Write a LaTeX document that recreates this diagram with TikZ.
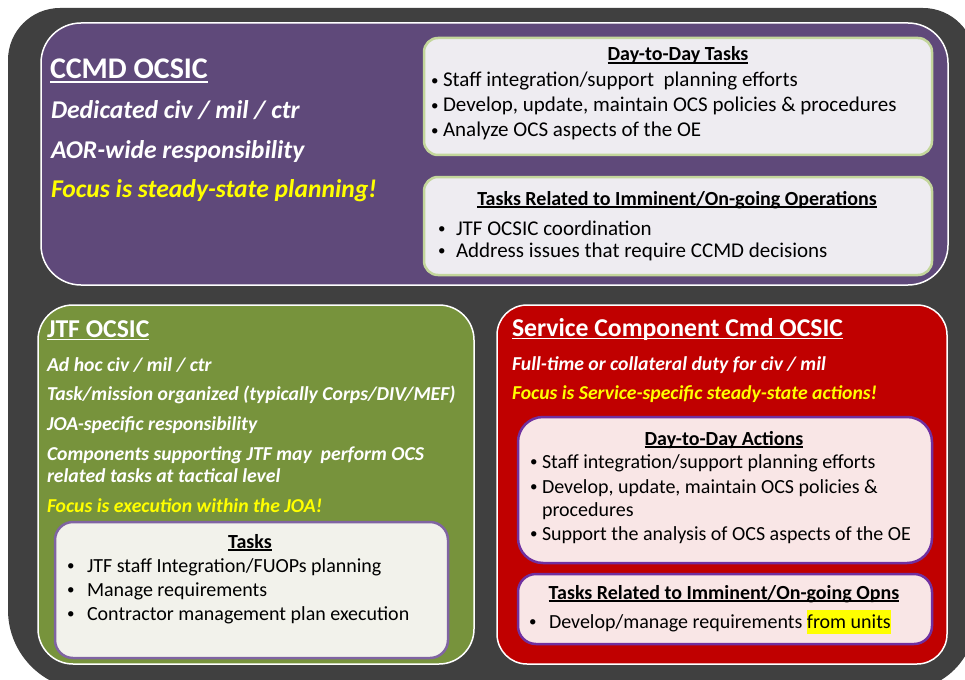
\documentclass[tikz,border=0pt]{standalone}
\usepackage{fontspec}
\setmainfont{Carlito}
\definecolor{darkbg}{HTML}{404040}
\definecolor{ccmdpurple}{HTML}{5F497A}
\definecolor{jtfgreen}{HTML}{77933C}
\definecolor{scred}{HTML}{C00000}
\definecolor{lavbox}{HTML}{EEECF1}
\definecolor{lgreen}{HTML}{C3D69B}
\definecolor{creambox}{HTML}{F2F2EB}
\definecolor{mpurple}{HTML}{8064A2}
\definecolor{pinkbox}{HTML}{F9E6E6}
\definecolor{vpurple}{HTML}{7030A0}
\definecolor{hiyellow}{HTML}{FFFF00}
\newsavebox\ulbox
\newcommand\ulx[1]{\sbox\ulbox{#1}\leavevmode\rlap{\rule[-0.13em]{\wd\ulbox}{0.07em}}\usebox\ulbox}
% bullet: box of width #1 with a small dot at its left
\newcommand\bul[1]{\makebox[#1][l]{\raisebox{1.6pt}{\fontsize{15}{15}\selectfont •}}}
\newcommand\fTitleA{\fontsize{30}{35}\selectfont\bfseries}
\newcommand\fTitleB{\fontsize{25.7}{30}\selectfont\bfseries}
\newcommand\fLineA{\fontsize{25.6}{30}\selectfont\bfseries\itshape}
\newcommand\fLineB{\fontsize{19.7}{23}\selectfont\bfseries\itshape}
\newcommand\fHead{\fontsize{20}{24}\selectfont\bfseries}
\newcommand\fBul{\fontsize{20}{24}\selectfont}
\newcommand\fBulL{\fontsize{21}{25}\selectfont}
\begin{document}
\begin{tikzpicture}[x=1pt,y=-1pt,
  panel/.style={draw=white, line width=1.5pt, inner sep=0pt, outer sep=0pt},
  lavpanel/.style={fill=lavbox, draw=lgreen, line width=2.5pt, rounded corners=14pt, inner sep=0pt},
  creampanel/.style={fill=creambox, draw=mpurple, line width=2.5pt, rounded corners=18pt, inner sep=0pt},
  pinkpanel/.style={fill=pinkbox, draw=vpurple, line width=2.5pt, inner sep=0pt},
  txt/.style={anchor=base west, inner sep=0pt, outer sep=0pt},
  wtxt/.style={txt, text=white},
  ytxt/.style={txt, text=hiyellow},
  htxt/.style={anchor=base, inner sep=0pt, outer sep=0pt, text=black, font=\fHead},
  btxt/.style={txt, text=black, font=\fBul},
  btxtl/.style={txt, text=black, font=\fBulL},
]
\useasboundingbox (0,0) rectangle (965,679);
\fill[white] (0,0) rectangle (965,679);
% dark frame
\fill[darkbg] (8,60) arc[start angle=180,end angle=270,radius=52] -- (923,8)
  arc[start angle=270,end angle=360,radius=52] -- (975,620)
  arc[start angle=0,end angle=90,radius=70] -- (88,690)
  arc[start angle=90,end angle=180,radius=80] -- cycle;

% ===== CCMD panel =====
\node[panel, fill=ccmdpurple, rounded corners=40pt, minimum width=907pt, minimum height=262pt] (ccmd) at (494.5,154) {};
\node[lavpanel, minimum width=508pt, minimum height=117pt] (ccmddaily) at (678,96.5) {};
\node[lavpanel, minimum width=508pt, minimum height=98pt] (ccmdops) at (678,226) {};

\node[wtxt, font=\fTitleA] (ccmdtitle) at (50,79) {\ulx{CCMD OCSIC}};
\node[wtxt, font=\fLineA] (ccmdl1) at (51,119) {Dedicated civ / mil / ctr};
\node[wtxt, font=\fLineA] (ccmdl2) at (51,159) {AOR-wide responsibility};
\node[ytxt, font=\fLineA] (ccmdl3) at (51,197) {Focus is steady-state planning!};

\node[htxt] (ccmddailyh) at (678,61) {\ulx{Day-to-Day Tasks}};
\node[btxtl] (ccmdd1) at (431,87) {\bul{12pt}Staff integration/support\ \ planning efforts};
\node[btxtl] (ccmdd2) at (431,112) {\bul{12pt}Develop, update, maintain OCS policies \& procedures};
\node[btxtl] (ccmdd3) at (431,137) {\bul{12pt}Analyze OCS aspects of the OE};

\node[htxt] (ccmdopsh) at (677,205) {\ulx{Tasks Related to Imminent/On-going Operations}};
\node[btxtl] (ccmdo1) at (438,235) {\bul{18pt}JTF OCSIC coordination};
\node[btxtl] (ccmdo2) at (438,257) {\bul{18pt}Address issues that require CCMD decisions};

% ===== JTF panel =====
\node[panel, fill=jtfgreen, rounded corners=35pt, minimum width=436pt, minimum height=359pt] (jtf) at (256,484.5) {};
\node[creampanel, minimum width=393pt, minimum height=136pt] (jtftasks) at (251.5,590) {};

\node[wtxt, font=\fTitleB] (jtftitle) at (47,337) {\ulx{JTF OCSIC}};
\node[wtxt, font=\fLineB] (jtfl1) at (47,371) {Ad hoc civ / mil / ctr};
\node[wtxt, font=\fLineB] (jtfl2) at (47,400) {Task/mission organized (typically Corps/DIV/MEF)};
\node[wtxt, font=\fLineB] (jtfl3) at (47,430) {JOA-specific responsibility};
\node[wtxt, font=\fLineB] (jtfl4) at (47,460) {Components supporting JTF may\ \ perform OCS};
\node[wtxt, font=\fLineB] (jtfl5) at (47,482) {related tasks at tactical level};
\node[ytxt, font=\fLineB] (jtfl6) at (47,512) {Focus is execution within the JOA!};

\node[htxt] (jtftasksh) at (250,548) {\ulx{Tasks}};
\node[btxt] (jtft1) at (67,572) {\bul{20pt}JTF staff Integration/FUOPs planning};
\node[btxt] (jtft2) at (67,596) {\bul{20pt}Manage requirements};
\node[btxt] (jtft3) at (67,620) {\bul{20pt}Contractor management plan execution};

% ===== Service Component panel =====
\node[panel, fill=scred, rounded corners=30pt, minimum width=450pt, minimum height=359pt] (scc) at (722,484.5) {};
\node[pinkpanel, rounded corners=25pt, minimum width=414pt, minimum height=146pt] (sccdaily) at (725,490) {};
\node[pinkpanel, rounded corners=18pt, minimum width=414pt, minimum height=70pt] (sccops) at (725,609) {};

\node[wtxt, font=\fTitleB] (scctitle) at (512,336) {\ulx{Service Component Cmd OCSIC}};
\node[wtxt, font=\fLineB] (sccl1) at (512,370) {Full-time or collateral duty for civ / mil};
\node[ytxt, font=\fLineB] (sccl2) at (512,399) {Focus is Service-specific steady-state actions!};

\node[htxt] (sccdailyh) at (724,445) {\ulx{Day-to-Day Actions}};
\node[btxt] (sccd1) at (530,468) {\bul{12pt}Staff integration/support planning efforts};
\node[btxt] (sccd2) at (530,493) {\bul{12pt}Develop, update, maintain OCS policies \&};
\node[btxt] (sccd2b) at (542,516) {procedures};
\node[btxt] (sccd3) at (530,540) {\bul{12pt}Support the analysis of OCS aspects of the OE};

\node[htxt] (sccopsh) at (724,599) {\ulx{Tasks Related to Imminent/On-going Opns}};
\node[btxt] (scco1) at (529,628) {\bul{20pt}Develop/manage requirements {\setlength{\fboxsep}{0pt}\colorbox{hiyellow}{\rule[-6pt]{0pt}{24pt}from units}}};
\end{tikzpicture}
\end{document}
